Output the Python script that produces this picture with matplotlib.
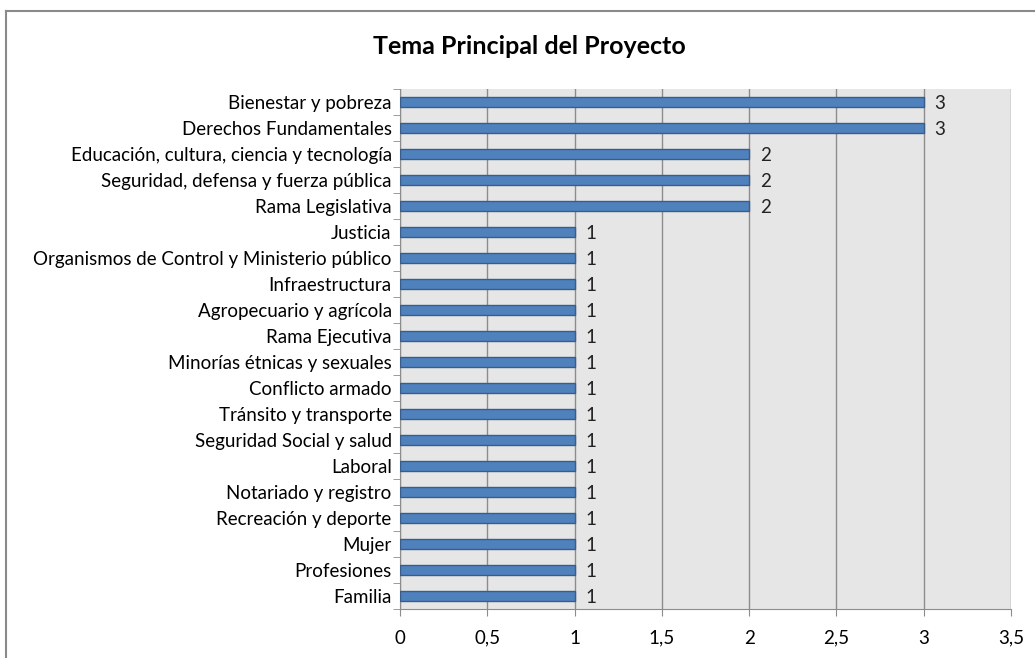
import matplotlib
matplotlib.use("Agg")
import matplotlib.pyplot as plt
from matplotlib.lines import Line2D
import numpy as np

plt.rcParams['font.family'] = ['Lato', 'DejaVu Sans']

temas = [
    "Bienestar y pobreza",
    "Derechos Fundamentales",
    "Educación, cultura, ciencia y tecnología",
    "Seguridad, defensa y fuerza pública",
    "Rama Legislativa",
    "Justicia",
    "Organismos de Control y Ministerio público",
    "Infraestructura",
    "Agropecuario y agrícola",
    "Rama Ejecutiva",
    "Minorías étnicas y sexuales",
    "Conflicto armado",
    "Tránsito y transporte",
    "Seguridad Social y salud",
    "Laboral",
    "Notariado y registro",
    "Recreación y deporte",
    "Mujer",
    "Profesiones",
    "Familia",
]
proyectos = [3, 3, 2, 2, 2, 1, 1, 1, 1, 1, 1, 1, 1, 1, 1, 1, 1, 1, 1, 1]
xticks = [0, 0.5, 1, 1.5, 2, 2.5, 3, 3.5]
xlabels = ["0", "0,5", "1", "1,5", "2", "2,5", "3", "3,5"]

fs = 13.5

fig = plt.figure(figsize=(10.35, 6.58), dpi=100)
ax = fig.add_axes([400/1035, 1-609/658, 611/1035, 520/658])

# marco exterior
fig.add_artist(Line2D([6/1035, 1], [1-11/658, 1-11/658], color="#8a8a8a", lw=1.5))
fig.add_artist(Line2D([6/1035, 6/1035], [1-11/658, 0], color="#8a8a8a", lw=1.5))

n = len(temas)
y = np.arange(n)[::-1]
ax.set_facecolor("#e6e6e6")
ax.barh(y, proyectos, height=0.42, color="#4f81bd", edgecolor="#385d8a", lw=1.0, zorder=3)
for yi, v in zip(y, proyectos):
    ax.text(v + 0.06, yi - 0.05, str(v), va="center", ha="left", fontsize=fs, color="#222222")

ax.set_xlim(0, 3.5)
ax.set_ylim(-0.5, n - 0.5)
ax.set_xticks(xticks)
ax.set_xticklabels(xlabels, fontsize=fs)
ax.xaxis.grid(True, color="#8c8c8c", lw=1.0, zorder=0)
ax.set_axisbelow(True)

ax.set_yticks(y)
ax.set_yticklabels(temas, fontsize=fs)
ax.set_yticks(np.arange(-0.5, n, 1), minor=True)
ax.tick_params(axis="y", which="major", length=0, pad=6)
ax.tick_params(axis="y", which="minor", length=5, color="#8c8c8c", direction="out")
ax.tick_params(axis="x", length=5, color="#8c8c8c", pad=10)

for s in ["top", "right"]:
    ax.spines[s].set_visible(False)
ax.spines["left"].set_color("#8c8c8c")
ax.spines["bottom"].set_color("#8c8c8c")

fig.text(529/1035, 1-47/658, "Tema Principal del Proyecto", ha="center", va="center",
         fontsize=18, fontweight="bold", color="#000000")

fig.savefig("out.png", dpi=100)
